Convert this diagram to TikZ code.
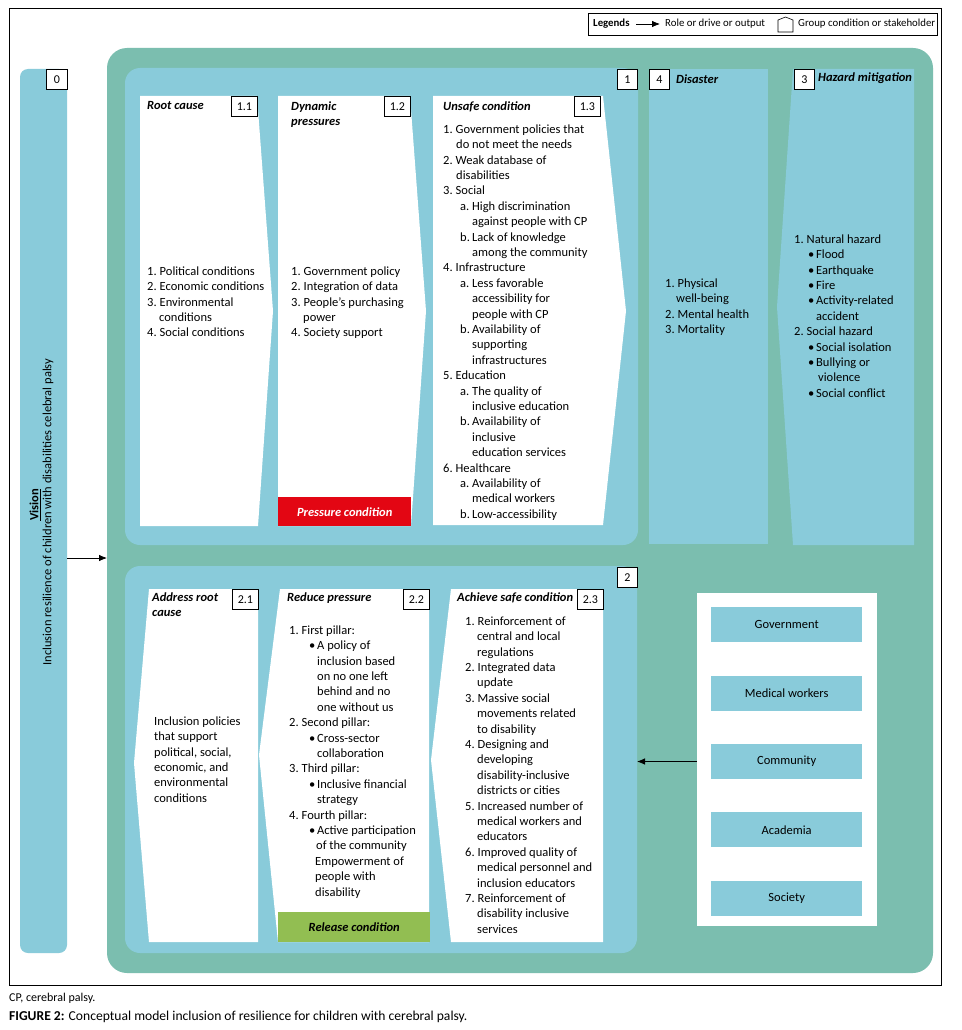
\documentclass[tikz,border=0pt]{standalone}
\usepackage{fontspec}
\setmainfont{Carlito}
\usetikzlibrary{positioning,arrows.meta}

\definecolor{skyblue}{HTML}{89CBDA}
\definecolor{seagreen}{HTML}{7BBEAF}
\definecolor{pressred}{HTML}{E30613}
\definecolor{releasegreen}{HTML}{92BE52}

\newcommand{\bodyfont}{\fontsize{12.5}{15.4}\selectfont}
\newcommand{\legfont}{\fontsize{10.8}{13}\selectfont}
\newcommand{\lab}[2]{\makebox[#1][l]{#2}}

\begin{document}
\begin{tikzpicture}[x=1pt, y=-1pt,
    area/.style={fill=skyblue, anchor=north west, inner sep=0pt, outer sep=0pt},
    numbox/.style={draw, fill=white, line width=0.8pt, anchor=north west, minimum height=20pt, inner sep=0pt, font=\fontsize{12}{14}\selectfont},
    heading/.style={anchor=north west, inner sep=0pt, align=left, font=\bodyfont\bfseries\itshape},
    listing/.style={anchor=north west, inner sep=0pt, align=left, font=\bodyfont},
    condbar/.style={anchor=north west, inner sep=0pt, minimum height=29pt, font=\bodyfont\bfseries\itshape},
    stakebox/.style={fill=skyblue, minimum width=151pt, minimum height=35pt, inner sep=0pt, font=\bodyfont},
    arrow/.style={-{Latex[length=8pt, width=6.5pt]}, line width=0.8pt}]

\path[use as bounding box, fill=white] (0,0) rectangle (961,1030);
\draw[line width=0.8pt] (9,8) rectangle (941,985);

% Legend
\node[draw, line width=0.8pt, anchor=north west, minimum width=349pt, minimum height=22pt, inner sep=0pt] (legend) at (588,13) {};
\node[anchor=west, inner sep=0pt, font=\legfont\bfseries] (legtitle) at (593,24) {Legends};
\coordinate (legfrom) at (636,24);
\coordinate (legto) at (660,24);
\node[anchor=west, inner sep=0pt, font=\legfont] (legarrow) at (665,24) {Role or drive or output};
\draw[line width=0.6pt] (778,32) -- (778,20) -- (785.5,17) -- (793,20) -- (793,32) -- cycle;
\node[anchor=west, inner sep=0pt, font=\legfont] (leggroup) at (798,24) {Group condition or stakeholder};

% Vision
\node[area, rounded corners=8pt, minimum width=47pt, minimum height=884pt] (vision) at (20,69) {};
\node[numbox, minimum width=21pt] (n0) at (46,69) {0};
\node[rotate=90, inner sep=0pt, font=\bodyfont\bfseries] (visiontitle) at (35,505) {\underline{Vision}};
\node[rotate=90, inner sep=0pt, font=\bodyfont] (visiontext) at (48,512) {Inclusion resilience of children with disabilities celebral palsy};

% Model area
\node[fill=seagreen, rounded corners=20pt, anchor=north west, inner sep=0pt, outer sep=0pt, minimum width=826pt, minimum height=925pt] (model) at (107,48) {};

% Panel 1: pressure
\node[area, rounded corners=15pt, minimum width=513pt, minimum height=477pt] (panel1) at (125,68) {};
\node[numbox, minimum width=20pt] (n1) at (617,69) {1};
\fill[white] (140,96) -- (257,96) -- (273,311) -- (258,526) -- (140,526) -- cycle;
\fill[white] (278,96) -- (410,96) -- (426,311) -- (411,526) -- (278,526) -- cycle;
\fill[white] (433,96) -- (603,96) -- (626,311) -- (603,525) -- (433,525) -- cycle;
\node[numbox, minimum width=26pt] (n11) at (231,96) {1.1};
\node[numbox, minimum width=26pt] (n12) at (384,96) {1.2};
\node[numbox, minimum width=26pt] (n13) at (574,96) {1.3};
\node[heading] (rootcause) at (147,101.5) {Root cause};
\node[heading] (dynamic) at (291,101.5) {Dynamic\\pressures};
\node[heading] (unsafe) at (443,101.5) {Unsafe condition};
\node[listing] (rootlist) at (147,266.5) {\lab{12.5pt}{1.}Political conditions\\
  \lab{12.5pt}{2.}Economic conditions\\
  \lab{12.5pt}{3.}Environmental\\
  \hspace*{12pt}conditions\\
  \lab{12.5pt}{4.}Social conditions};
\node[listing] (dynlist) at (291,266.5) {\lab{12.5pt}{1.}Government policy\\
  \lab{12.5pt}{2.}Integration of data\\
  \lab{12.5pt}{3.}People's purchasing\\
  \hspace*{12pt}power\\
  \lab{12.5pt}{4.}Society support};
\node[condbar, fill=pressred, text=white, minimum width=133pt] (pressure) at (278,497) {Pressure condition};
\node[listing] (unsafelist) at (443,124.5) {\lab{12.5pt}{1.}Government policies that\\
  \hspace*{13pt}do not meet the needs\\
  \lab{12.5pt}{2.}Weak database of\\
  \hspace*{13pt}disabilities\\
  \lab{12.5pt}{3.}Social\\
  \hspace*{17pt}\lab{12pt}{a.}High discrimination\\
  \hspace*{29pt}against people with CP\\
  \hspace*{17pt}\lab{12pt}{b.}Lack of knowledge\\
  \hspace*{29pt}among the community\\
  \lab{12.5pt}{4.}Infrastructure\\
  \hspace*{17pt}\lab{12pt}{a.}Less favorable\\
  \hspace*{29pt}accessibility for\\
  \hspace*{29pt}people with CP\\
  \hspace*{17pt}\lab{12pt}{b.}Availability of\\
  \hspace*{29pt}supporting\\
  \hspace*{29pt}infrastructures\\
  \lab{12.5pt}{5.}Education\\
  \hspace*{17pt}\lab{12pt}{a.}The quality of\\
  \hspace*{29pt}inclusive education\\
  \hspace*{17pt}\lab{12pt}{b.}Availability of\\
  \hspace*{29pt}inclusive\\
  \hspace*{29pt}education services\\
  \lab{12.5pt}{6.}Healthcare\\
  \hspace*{17pt}\lab{12pt}{a.}Availability of\\
  \hspace*{29pt}medical workers\\
  \hspace*{17pt}\lab{12pt}{b.}Low-accessibility};

% Disaster and hazard mitigation
\node[area, minimum width=119pt, minimum height=475pt] (disaster) at (649,69) {};
\node[numbox, minimum width=20pt] (n4) at (649,69) {4};
\node[heading] (distitle) at (676,74.5) {Disaster};
\node[listing] (dislist) at (665,278.5) {\lab{12.5pt}{1.}Physical\\
  \hspace*{11pt}well-being\\
  \lab{12.5pt}{2.}Mental health\\
  \lab{12.5pt}{3.}Mortality};
\fill[skyblue] (793,69) -- (914,69) -- (914,545) -- (793,545) -- (777,307) -- cycle;
\node[numbox, minimum width=20pt] (n3) at (794,69) {3};
\node[heading] (haztitle) at (818,72.5) {Hazard mitigation};
\node[listing] (hazlist) at (794,234.5) {\lab{12.5pt}{1.}Natural hazard\\
  \hspace*{14pt}\lab{8pt}{•}Flood\\
  \hspace*{14pt}\lab{8pt}{•}Earthquake\\
  \hspace*{14pt}\lab{8pt}{•}Fire\\
  \hspace*{14pt}\lab{8pt}{•}Activity-related\\
  \hspace*{22pt}accident\\
  \lab{12.5pt}{2.}Social hazard\\
  \hspace*{14pt}\lab{8pt}{•}Social isolation\\
  \hspace*{14pt}\lab{8pt}{•}Bullying or\\
  \hspace*{24pt}violence\\
  \hspace*{14pt}\lab{8pt}{•}Social conflict};

% Panel 2: release
\node[area, rounded corners=15pt, minimum width=512pt, minimum height=387pt] (panel2) at (125,566) {};
\node[numbox, minimum width=20pt] (n2) at (617,567) {2};
\fill[white] (149,589) -- (258,589) -- (258,942) -- (149,942) -- (134,763) -- cycle;
\fill[white] (280,589) -- (429,589) -- (429,942) -- (278,942) -- (259,755) -- cycle;
\fill[white] (451,589) -- (603,589) -- (603,942) -- (451,942) -- (431,760) -- cycle;
\node[numbox, minimum width=26pt] (n21) at (232,589) {2.1};
\node[numbox, minimum width=26pt] (n22) at (403,589) {2.2};
\node[numbox, minimum width=26pt] (n23) at (577,589) {2.3};
\node[heading] (address) at (152,592.5) {Address root\\cause};
\node[heading] (reduce) at (287,592.5) {Reduce pressure};
\node[heading] (achieve) at (457,592.5) {Achieve safe condition};
\node[listing] (addresstext) at (154,716.5) {Inclusion policies\\
  that support\\
  political, social,\\
  economic, and\\
  environmental\\
  conditions};
\node[listing] (reducelist) at (289,625.5) {\lab{12.5pt}{1.}First pillar:\\
  \hspace*{20pt}\lab{8pt}{•}A policy of\\
  \hspace*{28pt}inclusion based\\
  \hspace*{28pt}on no one left\\
  \hspace*{28pt}behind and no\\
  \hspace*{28pt}one without us\\
  \lab{12.5pt}{2.}Second pillar:\\
  \hspace*{20pt}\lab{8pt}{•}Cross-sector\\
  \hspace*{28pt}collaboration\\
  \lab{12.5pt}{3.}Third pillar:\\
  \hspace*{20pt}\lab{8pt}{•}Inclusive financial\\
  \hspace*{28pt}strategy\\
  \lab{12.5pt}{4.}Fourth pillar:\\
  \hspace*{20pt}\lab{8pt}{•}Active participation\\
  \hspace*{27pt}of the community\\
  \hspace*{26pt}Empowerment of\\
  \hspace*{26pt}people with\\
  \hspace*{26pt}disability};
\node[condbar, fill=releasegreen, minimum width=152pt, minimum height=30pt] (release) at (278,912) {Release condition};
\node[listing] (achievelist) at (465,616.5) {\lab{12.5pt}{1.}Reinforcement of\\
  \hspace*{12pt}central and local\\
  \hspace*{12pt}regulations\\
  \lab{12.5pt}{2.}Integrated data\\
  \hspace*{12pt}update\\
  \lab{12.5pt}{3.}Massive social\\
  \hspace*{12pt}movements related\\
  \hspace*{12pt}to disability\\
  \lab{12.5pt}{4.}Designing and\\
  \hspace*{12pt}developing\\
  \hspace*{12pt}disability-inclusive\\
  \hspace*{12pt}districts or cities\\
  \lab{12.5pt}{5.}Increased number of\\
  \hspace*{12pt}medical workers and\\
  \hspace*{12pt}educators\\
  \lab{12.5pt}{6.}Improved quality of\\
  \hspace*{12pt}medical personnel and\\
  \hspace*{12pt}inclusion educators\\
  \lab{12.5pt}{7.}Reinforcement of\\
  \hspace*{12pt}disability inclusive\\
  \hspace*{12pt}services};

% Stakeholders
\node[fill=white, anchor=north west, inner sep=0pt, outer sep=0pt, minimum width=180pt, minimum height=333pt] (stake) at (697,593) {};
\node[stakebox, anchor=north west] (government) at (711,607) {Government};
\node[stakebox, below=33pt of government] (medical) {Medical workers};
\node[stakebox, below=33pt of medical] (community) {Community};
\node[stakebox, below=33pt of community] (academia) {Academia};
\node[stakebox, below=33pt of academia] (society) {Society};

% Caption
\node[anchor=west, inner sep=0pt, font=\fontsize{12}{14}\selectfont] (note) at (9,998) {CP, cerebral palsy.};
\node[anchor=west, inner sep=0pt, font=\fontsize{13.6}{16}\selectfont] (caption) at (9,1017) {\textbf{FIGURE 2:} Conceptual model inclusion of resilience for children with cerebral palsy.};

% Connections
\draw[arrow] (legfrom) -- (legto);
\draw[arrow] ([yshift=-47pt]vision.east) -- ([yshift=-47pt]vision.east -| model.west);
\draw[arrow] (community -| stake.west) -- (community -| panel2.east);

\end{tikzpicture}
\end{document}
